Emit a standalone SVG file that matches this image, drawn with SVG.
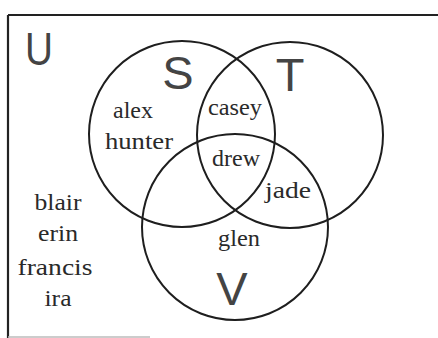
<svg xmlns="http://www.w3.org/2000/svg" width="438" height="338" viewBox="0 0 438 338">
<style>
.frame{fill:none;stroke:#222;stroke-width:2.2}
.set{fill:none;stroke:#1e1e1e;stroke-width:2}
.big{font-family:"Liberation Sans",Arial,sans-serif;font-size:47px;fill:#444;text-anchor:middle}
.name{font-family:"Liberation Serif","Times New Roman",serif;font-size:24px;fill:#2a2a2a;text-anchor:middle}
</style>
<rect width="438" height="338" fill="#fff"/>
<g id="universe">
<path class="frame" d="M8,15 H438 M8,15 V338"/>
<path d="M8,337 H150" stroke="#bbb" stroke-width="1.5" fill="none"/>
<text class="big" x="39" y="65" textLength="28" lengthAdjust="spacingAndGlyphs">U</text>
</g>
<g id="connectors"></g>
<g id="set-S">
<circle class="set" cx="182" cy="134" r="93"/>
<text class="big" x="178" y="89">S</text>
</g>
<g id="set-T">
<circle class="set" cx="290" cy="135" r="93"/>
<text class="big" x="290" y="91">T</text>
</g>
<g id="set-V">
<circle class="set" cx="235" cy="227" r="93"/>
<text class="big" x="232" y="305">V</text>
</g>
<g id="names">
<text class="name" x="133" y="118" textLength="40" lengthAdjust="spacingAndGlyphs">alex</text>
<text class="name" x="139" y="149" textLength="68" lengthAdjust="spacingAndGlyphs">hunter</text>
<text class="name" x="235" y="115" textLength="54" lengthAdjust="spacingAndGlyphs">casey</text>
<text class="name" x="236" y="166" textLength="48" lengthAdjust="spacingAndGlyphs">drew</text>
<text class="name" x="288" y="198" textLength="46" lengthAdjust="spacingAndGlyphs">jade</text>
<text class="name" x="239" y="246" textLength="42" lengthAdjust="spacingAndGlyphs">glen</text>
<text class="name" x="58" y="210" textLength="47" lengthAdjust="spacingAndGlyphs">blair</text>
<text class="name" x="58" y="241" textLength="40" lengthAdjust="spacingAndGlyphs">erin</text>
<text class="name" x="55" y="275" textLength="75" lengthAdjust="spacingAndGlyphs">francis</text>
<text class="name" x="58" y="306" textLength="27" lengthAdjust="spacingAndGlyphs">ira</text>
</g>
</svg>
